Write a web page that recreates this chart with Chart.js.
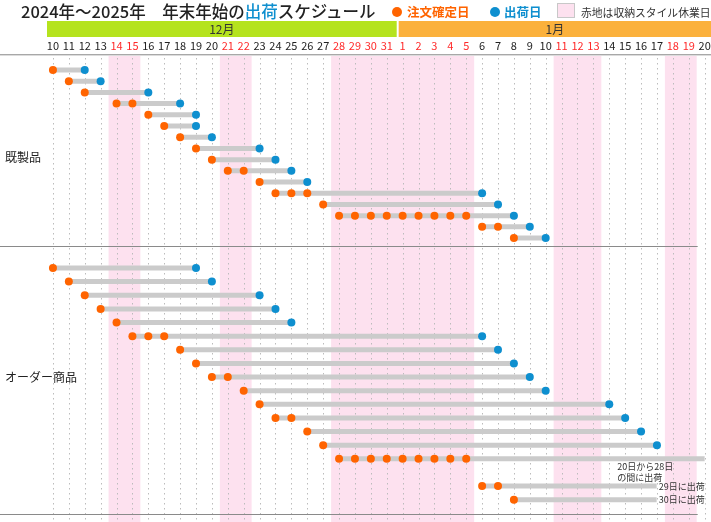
<!DOCTYPE html>
<html>
<head>
<meta charset="utf-8">
<script src="https://cdn.jsdelivr.net/npm/chart.js@4.4.1/dist/chart.umd.min.js"></script>
<style>
  html, body { margin: 0; padding: 0; background: #fff; }
  #wrap { position: relative; width: 711px; height: 522px; font-family: "Noto Sans CJK JP", "Noto Sans", sans-serif; }
  #schedule { position: absolute; left: 0; top: 0; }
  .hd { position: absolute; white-space: nowrap; line-height: 20px; }
  .dot { position: absolute; width: 10px; height: 10px; border-radius: 50%; }
</style>
</head>
<body>
<div id="wrap">
  <canvas id="schedule" width="711" height="522"></canvas>
  <span class="hd" style="left:21px;top:1px;font-size:16.5px;font-weight:500;color:#222;">2024年～2025年　年末年始の<span style="color:#0e8fcf">出荷</span>スケジュール</span>
  <span class="dot" style="left:392px;top:7px;background:#ff6400;"></span>
  <span class="hd" style="left:407px;top:2px;font-size:12.5px;font-weight:bold;color:#ff6400;">注文確定日</span>
  <span class="dot" style="left:490px;top:7px;background:#0e8fcf;"></span>
  <span class="hd" style="left:504px;top:2px;font-size:12.5px;font-weight:bold;color:#0e8fcf;">出荷日</span>
  <span class="hd" style="left:557px;top:3px;width:16px;height:13px;background:#fde1ef;border:1px solid #c8c8c8;"></span>
  <span class="hd" style="left:581px;top:2px;font-size:10.8px;color:#333;">赤地は収納スタイル休業日</span>
</div>
<script>
// days on the x axis (Dec 10 - Jan 20)
const dates = ['12/10','12/11','12/12','12/13','12/14','12/15','12/16','12/17','12/18','12/19','12/20',
  '12/21','12/22','12/23','12/24','12/25','12/26','12/27','12/28','12/29','12/30','12/31',
  '1/1','1/2','1/3','1/4','1/5','1/6','1/7','1/8','1/9','1/10','1/11','1/12','1/13','1/14',
  '1/15','1/16','1/17','1/18','1/19','1/20'];
const holidays = ['12/14','12/15','12/21','12/22','12/28','12/29','12/30','12/31',
  '1/1','1/2','1/3','1/4','1/5','1/11','1/12','1/13','1/18','1/19'];

const monthNames = ['12月', '1月'];
const monthStart = ['12/10', '1/1'];
const monthEnd = ['12/31', '1/20'];

// 既製品
const stockOrder = [['12/10'], ['12/11'], ['12/12'], ['12/14','12/15'], ['12/16'], ['12/17'], ['12/18'],
  ['12/19'], ['12/20'], ['12/21','12/22'], ['12/23'], ['12/24','12/25','12/26'], ['12/27'],
  ['12/28','12/29','12/30','12/31','1/1','1/2','1/3','1/4','1/5'], ['1/6','1/7'], ['1/8']];
const stockShip = ['12/12','12/13','12/16','12/18','12/19','12/19','12/20','12/23','12/24','12/25',
  '12/26','1/6','1/7','1/8','1/9','1/10'];
const stockRows = [0,1,2,3,4,5,6,7,8,9,10,11,12,13,14,15];

// オーダー商品
const customOrder = [['12/10'], ['12/11'], ['12/12'], ['12/13'], ['12/14'], ['12/15','12/16','12/17'],
  ['12/18'], ['12/19'], ['12/20','12/21'], ['12/22'], ['12/23'], ['12/24','12/25'], ['12/26'], ['12/27'],
  ['12/28','12/29','12/30','12/31','1/1','1/2','1/3','1/4','1/5'], ['1/6','1/7'], ['1/8']];
const customShip = ['12/19','12/20','12/23','12/24','12/25','1/6','1/7','1/8','1/9','1/10',
  '1/14','1/15','1/16','1/17', null, null, null];
const customRows = [0,1,2,3,4,5,6,7,8,9,10,11,12,13,14,16,17];
const customNotes = [null,null,null,null,null,null,null,null,null,null,null,null,null,null,
  '20日から28日\nの間に出荷', '29日に出荷', '30日に出荷'];

const ORANGE = '#ff6400';
const BLUE = '#0e8fcf';
const BAR = '#cbcbcb';
const PINK = '#fde1ef';

const idx = d => dates.indexOf(d);
const lastDay = dates[dates.length - 1];

function rowSets(orders, ships, rows, axis) {
  const sets = [];
  orders.forEach((list, r) => {
    sets.push({
      type: 'line',
      yAxisID: axis,
      data: [{ x: idx(list[0]), y: rows[r] }, { x: idx(ships[r] || lastDay), y: rows[r] }],
      borderColor: BAR,
      borderWidth: 5,
      borderCapStyle: 'butt',
      pointRadius: 0,
      order: 2
    });
  });
  sets.push({
    label: '注文確定日',
    yAxisID: axis,
    data: orders.flatMap((list, r) => list.map(d => ({ x: idx(d), y: rows[r] }))),
    backgroundColor: ORANGE,
    borderWidth: 0,
    pointRadius: 4,
    order: 1
  });
  sets.push({
    label: '出荷日',
    yAxisID: axis,
    data: ships.map((d, r) => d ? { x: idx(d), y: rows[r] } : null).filter(Boolean),
    backgroundColor: BLUE,
    borderWidth: 0,
    pointRadius: 4,
    order: 1
  });
  return sets;
}

// pink holiday columns + dotted day lines, optionally clipped to a box
function paintBackground(chart, clip) {
  const { ctx, chartArea, scales: { x } } = chart;
  const bottom = chart.height;
  ctx.save();
  if (clip) {
    ctx.beginPath();
    ctx.rect(clip.x, clip.y, clip.w, clip.h);
    ctx.clip();
  }
  ctx.fillStyle = PINK;
  let runStart = null;
  dates.forEach((d, i) => {
    const hol = holidays.includes(d);
    if (hol && runStart === null) runStart = i;
    if (runStart !== null && (!hol || i === dates.length - 1)) {
      const endI = hol ? i : i - 1;
      const l = x.getPixelForValue(runStart - 0.5);
      const r = x.getPixelForValue(endI + 0.5);
      ctx.fillRect(l, chartArea.top, r - l, bottom - chartArea.top);
      runStart = null;
    }
  });
  ctx.strokeStyle = '#bcbcbc';
  ctx.lineWidth = 1;
  ctx.setLineDash([1.5, 3.5]);
  dates.forEach((d, i) => {
    const px = Math.round(x.getPixelForValue(i)) + 0.5;
    ctx.beginPath();
    ctx.moveTo(px, chartArea.top + 3);
    ctx.lineTo(px, bottom);
    ctx.stroke();
  });
  ctx.restore();
}

const decor = {
  id: 'decor',
  beforeDraw(chart) {
    const { ctx, chartArea, scales: { x, y1, y2 } } = chart;
    paintBackground(chart);
    ctx.save();

    // month header bars
    const monthColors = ['#b5e31e', '#fbb13c'];
    monthNames.forEach((m, k) => {
      const l = x.getPixelForValue(idx(monthStart[k]) - 0.5) + (k === 0 ? 2 : 4);
      const r = k === monthNames.length - 1 ? chart.width : x.getPixelForValue(idx(monthEnd[k]) + 0.5) + 2;
      ctx.fillStyle = monthColors[k];
      ctx.fillRect(l, 21, r - l, 16);
      ctx.fillStyle = '#333';
      ctx.font = '12px "Noto Sans CJK JP"';
      ctx.textAlign = 'center';
      ctx.textBaseline = 'middle';
      ctx.fillText(m, (l + r) / 2, 29.5);
    });

    // header rule
    ctx.fillStyle = '#a8a8a8';
    ctx.fillRect(0, chartArea.top - 1, chart.width, 1);
    ctx.fillStyle = '#dcdcdc';
    ctx.fillRect(0, chartArea.top, chart.width, 1);

    // section rules
    const ruleEnd = x.getPixelForValue(dates.length - 1.5) + 1;
    ctx.fillStyle = '#8a8a8a';
    ctx.fillRect(0, Math.round(y1.bottom) - 1, ruleEnd, 1);
    ctx.fillRect(0, Math.round(y2.bottom) - 1, ruleEnd, 1);

    // section names
    ctx.fillStyle = '#222';
    ctx.font = '12px "Noto Sans CJK JP"';
    ctx.textAlign = 'left';
    ctx.textBaseline = 'middle';
    ctx.fillText('既製品', 5, (y1.top + y1.bottom) / 2 + 6);
    ctx.fillText('オーダー商品', 5, (y2.top + y2.bottom) / 2 - 4);
    ctx.restore();
  },
  afterDatasetsDraw(chart) {
    const { ctx, scales: { x, y2 } } = chart;
    ctx.save();
    ctx.font = '9px "Noto Sans CJK JP"';
    ctx.textBaseline = 'middle';
    const notes = customNotes.map((note, r) => ({ note, r })).filter(n => n.note);
    // single-line notes sit at the bar end, multi-line ones below the bar
    notes.sort((a, b) => a.note.split('\n').length - b.note.split('\n').length);
    notes.forEach(({ note, r }) => {
      const py = y2.getPixelForValue(customRows[r]);
      const lines = note.split('\n');
      if (lines.length > 1) {
        ctx.fillStyle = '#333';
        ctx.textAlign = 'left';
        lines.forEach((t, k) => ctx.fillText(t, x.getPixelForValue(idx('1/14') + 0.5), py + 8 + k * 11));
      } else {
        const right = x.getPixelForValue(idx(lastDay));
        const w = ctx.measureText(note).width;
        const box = { x: right - w - 2, y: py - 4, w: w + 3, h: 8 };
        ctx.fillStyle = '#fff';
        ctx.fillRect(box.x, box.y, box.w, box.h);
        paintBackground(chart, box);
        ctx.fillStyle = '#333';
        ctx.textAlign = 'right';
        ctx.fillText(note, right, py);
      }
    });
    ctx.restore();
  }
};

const hiddenY = {
  type: 'linear',
  position: 'left',
  stack: 'rows',
  reverse: true,
  ticks: { display: false },
  grid: { display: false },
  border: { display: false },
  afterFit(s) { s.width = 45; }
};

const ctx = document.getElementById('schedule').getContext('2d');

const scheduleChart = new Chart(ctx, {
  type: 'scatter',
  data: {
    datasets: [
      ...rowSets(stockOrder, stockShip, stockRows, 'y1'),
      ...rowSets(customOrder, customShip, customRows, 'y2')
    ]
  },
  options: {
    responsive: false,
    animation: false,
    events: [],
    layout: { autoPadding: false, padding: { top: 0, bottom: 7, left: 0, right: 0 } },
    plugins: {
      legend: { display: false },
      tooltip: { enabled: false }
    },
    scales: {
      x: {
        type: 'linear',
        position: 'top',
        min: -0.5,
        max: dates.length - 1 + 0.4,
        afterBuildTicks(s) { s.ticks = dates.map((d, i) => ({ value: i })); },
        afterFit(s) { s.height = 55; s.paddingLeft = 0; s.paddingRight = 0; },
        ticks: {
          autoSkip: false,
          maxRotation: 0,
          padding: 3,
          font: { size: 11, family: '"Noto Sans CJK JP"' },
          color: c => holidays.includes(dates[c.tick.value]) ? '#ff2a2a' : '#222',
          callback: v => dates[v] ? dates[v].split('/')[1] : ''
        },
        grid: { display: false, drawTicks: false },
        border: { display: false }
      },
      // left boxes stack in reverse order, so the lower section is listed first
      y2: { ...hiddenY, stackWeight: 268, min: -1.54, max: 18.12 },
      y1: { ...hiddenY, stackWeight: 192, min: -1.34, max: 15.8 }
    }
  },
  plugins: [decor]
});
</script>
</body>
</html>
